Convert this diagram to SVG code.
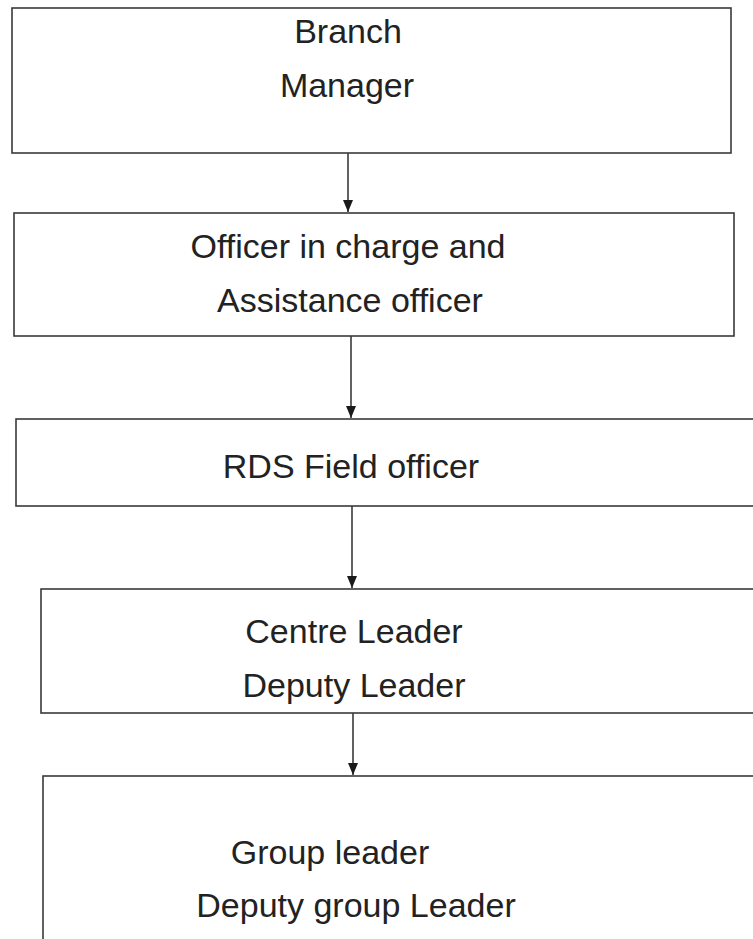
<svg xmlns="http://www.w3.org/2000/svg" width="753" height="939" viewBox="0 0 753 939">
<defs>
<style>
.box{fill:#fff;stroke:#3a3a3a;stroke-width:1.6}
.t{font-family:"Liberation Sans",Arial,sans-serif;font-size:34px;fill:#222;text-anchor:middle}
.c{stroke:#3a3a3a;stroke-width:1.6;fill:none}
</style>
<marker id="ah" viewBox="0 0 12 10" refX="12" refY="5" markerWidth="12" markerHeight="10" markerUnits="userSpaceOnUse" orient="auto">
<path d="M0,0 L12,5 L0,10 Z" fill="#1a1a1a"/>
</marker>
</defs>
<rect width="753" height="939" fill="#fff"/>
<g id="connectors">
<line class="c" x1="348" y1="153" x2="348" y2="212" marker-end="url(#ah)"/>
<line class="c" x1="351" y1="336" x2="351" y2="418" marker-end="url(#ah)"/>
<line class="c" x1="352" y1="506" x2="352" y2="588" marker-end="url(#ah)"/>
<line class="c" x1="353" y1="713" x2="353" y2="775" marker-end="url(#ah)"/>
</g>
<g id="branch-manager">
<rect class="box" x="12" y="8" width="719" height="145"/>
<text class="t" x="348" y="43">Branch</text>
<text class="t" x="347" y="97">Manager</text>
</g>
<g id="officer-in-charge">
<rect class="box" x="14" y="213" width="720" height="123"/>
<text class="t" x="348" y="258">Officer in charge and</text>
<text class="t" x="350" y="312">Assistance officer</text>
</g>
<g id="rds-field-officer">
<rect class="box" x="16" y="419" width="745" height="87"/>
<text class="t" x="351" y="478">RDS Field officer</text>
</g>
<g id="centre-leader">
<rect class="box" x="41" y="589" width="720" height="124"/>
<text class="t" x="354" y="643">Centre Leader</text>
<text class="t" x="354" y="697">Deputy Leader</text>
</g>
<g id="group-leader">
<rect class="box" x="43" y="776" width="720" height="180"/>
<text class="t" x="330" y="864">Group leader</text>
<text class="t" x="356" y="917">Deputy group Leader</text>
</g>
</svg>
